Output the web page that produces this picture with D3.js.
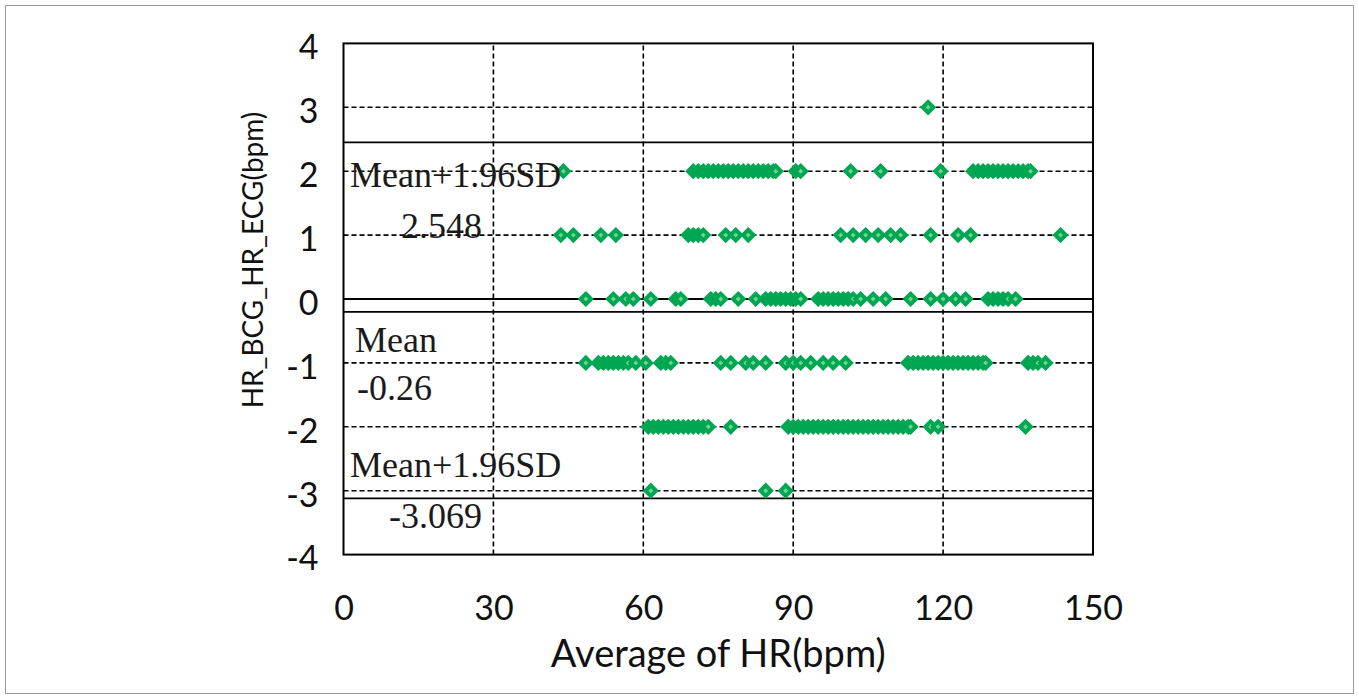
<!DOCTYPE html>
<html>
<head>
<meta charset="utf-8">
<script src="https://cdn.jsdelivr.net/npm/d3@7"></script>
<style>
  body { margin: 0; background: #fff; }
  svg { display: block; }
</style>
</head>
<body>
<div id="svgcontainer"></div>
<script>
// difference rows (bpm) and the average HR of each point on that row
const diffLevels = [3, 2, 1, 0, -1, -2, -3];
const avgAt3 = [117];
const avgAt2 = [44, 70, 71, 72, 73, 74, 75, 76, 77, 78, 79, 80, 81, 82, 83, 84, 85, 86, 86.5,
  90.5, 91.5, 101.5, 107.5, 119.5,
  126, 127, 128, 129, 130, 131, 132, 133, 134, 135, 136, 137, 137.5];
const avgAt1 = [43.5, 46, 51.5, 54.5, 69, 70, 71, 72, 76.5, 78.5, 81,
  99.5, 102, 104.5, 107, 109.5, 111.5, 117.5, 123, 125.5, 143.5];
const avgAt0 = [48.5, 54, 56.5, 58, 61.5, 66.5, 67.5, 73.5, 74.5, 75.5, 79, 82.5,
  84.5, 85.5, 86.5, 87.5, 88.5, 89.5, 90.5, 91.5,
  95, 96, 97, 98, 99, 100, 101, 102, 103.5, 106, 108.5,
  113.5, 117.5, 120, 122.5, 124.5, 129, 130, 131, 132, 133, 134.5];
const avgAtM1 = [48.5, 51, 52, 53, 54, 55, 56, 57, 58.5, 60.5, 63.5, 64.5, 65.5,
  75.5, 77.5, 80.5, 82, 84.5, 88.5, 90, 91.5, 93.5, 96, 98, 100.5,
  113, 114, 115, 116, 117, 118, 119, 120, 121, 122, 123, 124, 125, 126, 127, 128, 128.5,
  137, 138, 139, 140.5];
const avgAtM2 = [61, 62, 63, 64, 65, 66, 67, 68, 69, 70, 71, 72, 73, 77.5,
  89, 90, 91, 92, 93, 94, 95, 96, 97, 98, 99, 100, 101, 102, 103, 104, 105,
  106, 107, 108, 109, 110, 111, 112, 113, 113.5, 117.5, 119, 136.5];
const avgAtM3 = [61.5, 84.5, 88.5];
const avgRows = [avgAt3, avgAt2, avgAt1, avgAt0, avgAtM1, avgAtM2, avgAtM3];

const xTicks = [0, 30, 60, 90, 120, 150];
const yTicks = [4, 3, 2, 1, 0, -1, -2, -3, -4];

// limit lines as drawn in the figure, and their printed labels
const limitLines = [2.45, -0.2, -3.12];
const upperText = ["Mean+1.96SD", "2.548"];
const meanText = ["Mean", "-0.26"];
const lowerText = ["Mean+1.96SD", "-3.069"];

const xTitle = "Average of HR(bpm)";
const yTitle = "HR_BCG_HR_ECG(bpm)";

const points = [];
diffLevels.forEach((lv, i) => avgRows[i].forEach(a => points.push({avg: a, diff: lv})));

const width = 1359;
const height = 699;
const margin = ({top: 43.4, right: 266, bottom: 144.4, left: 343.5});

const svg = d3.select("#svgcontainer").append("svg")
  .attr("width", width).attr("height", height);

svg.append("rect")
  .attr("x", 5.5).attr("y", 5.5)
  .attr("width", width - 11).attr("height", height - 11)
  .attr("fill", "#fff").attr("stroke", "#9a9a9a").attr("stroke-width", 1);

const x = d3.scaleLinear()
  .domain([0, 150])
  .range([margin.left, width - margin.right]);

const y = d3.scaleLinear()
  .domain([-4, 4])
  .range([height - margin.bottom, margin.top]);

// dashed grid
const grid = svg.append("g")
  .attr("stroke", "#000")
  .attr("stroke-width", 1.6)
  .attr("stroke-dasharray", "5,3");

grid.selectAll(".hgrid")
  .data(yTicks.filter(d => d != 0 && Math.abs(d) != 4))
  .join("line")
  .attr("x1", x(0)).attr("x2", x(150))
  .attr("y1", d => y(d)).attr("y2", d => y(d));

grid.selectAll(".vgrid")
  .data(xTicks.filter(d => d != 0 && d != 150))
  .join("line")
  .attr("x1", d => x(d)).attr("x2", d => x(d))
  .attr("y1", y(-4)).attr("y2", y(4));

// zero line and limit lines
svg.append("g")
  .attr("stroke", "#000")
  .attr("stroke-width", 1.8)
  .selectAll("line")
  .data([0].concat(limitLines))
  .join("line")
  .attr("x1", x(0)).attr("x2", x(150))
  .attr("y1", d => y(d)).attr("y2", d => y(d));

// points
const diamond = d3.symbol().type(d3.symbolSquare).size(56);
svg.append("g")
  .selectAll("path")
  .data(points)
  .join("path")
  .attr("d", diamond)
  .attr("transform", d => `translate(${x(d.avg)},${y(d.diff)}) rotate(45)`)
  .attr("fill", "#6fd497")
  .attr("stroke", "#00a651")
  .attr("stroke-width", 4);

// plot frame
svg.append("rect")
  .attr("x", x(0)).attr("y", y(4))
  .attr("width", x(150) - x(0)).attr("height", y(-4) - y(4))
  .attr("fill", "none").attr("stroke", "#000").attr("stroke-width", 2);

// axes
const yAxis = g => g
  .attr("transform", `translate(${margin.left},0)`)
  .call(d3.axisLeft(y).tickValues(yTicks).tickSize(0).tickPadding(25).tickFormat(d => String(d)))
  .call(g => g.select(".domain").remove())
  .call(g => g.selectAll("text")
    .attr("dy", "0.45em")
    .attr("font-family", "Lato, sans-serif")
    .attr("font-size", 34)
    .attr("fill", "#111"));

const xAxis = g => g
  .attr("transform", `translate(0,${height - margin.bottom})`)
  .call(d3.axisBottom(x).tickValues(xTicks).tickSize(0).tickPadding(41).tickFormat(d => String(d)))
  .call(g => g.select(".domain").remove())
  .call(g => g.selectAll("text")
    .attr("font-family", "Lato, sans-serif")
    .attr("font-size", 34)
    .attr("fill", "#111"));

svg.append("g").call(yAxis);
svg.append("g").call(xAxis);

svg.append("text")
  .attr("x", (x(0) + x(150)) / 2)
  .attr("y", 667)
  .attr("text-anchor", "middle")
  .attr("font-family", "Lato, sans-serif")
  .attr("font-size", 38)
  .attr("fill", "#111")
  .text(xTitle);

svg.append("text")
  .attr("transform", `translate(263,260) rotate(-90)`)
  .attr("text-anchor", "middle")
  .attr("font-family", "Lato, sans-serif")
  .attr("font-size", 28)
  .attr("fill", "#111")
  .text(yTitle);

// limit annotations
const note = svg.append("g")
  .attr("font-family", "'Liberation Serif', 'Times New Roman', serif")
  .attr("font-size", 36)
  .attr("fill", "#1a1a1a");

note.append("text").attr("x", 350).attr("y", 187).text(upperText[0]);
note.append("text").attr("x", 482).attr("y", 238).attr("text-anchor", "end").text(upperText[1]);
note.append("text").attr("x", 355).attr("y", 352).text(meanText[0]);
note.append("text").attr("x", 357).attr("y", 400).text(meanText[1]);
note.append("text").attr("x", 350).attr("y", 477).text(lowerText[0]);
note.append("text").attr("x", 482).attr("y", 528).attr("text-anchor", "end").text(lowerText[1]);
</script>
</body>
</html>
